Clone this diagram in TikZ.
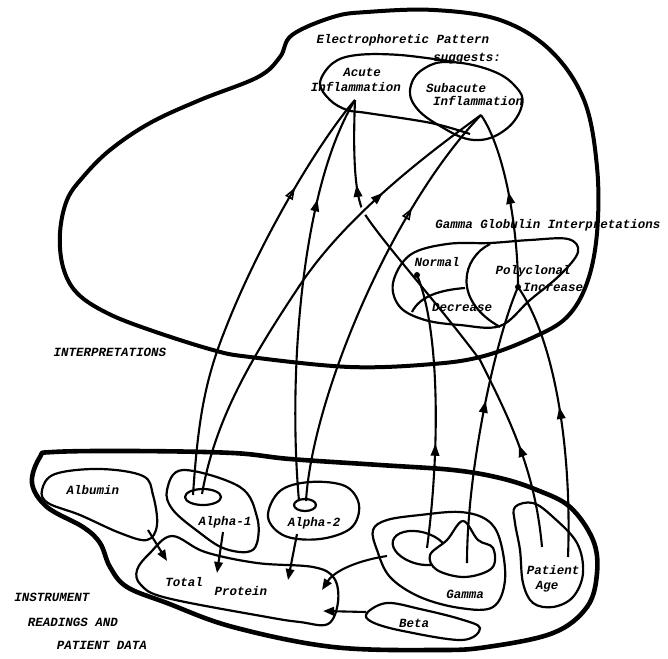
\documentclass[tikz,border=0pt]{standalone}
\usepackage{fontspec}
\setmonofont{Liberation Mono}
\usetikzlibrary{arrows.meta,decorations.markings}
\begin{document}
\begin{tikzpicture}[x=1pt,y=-1pt,
  lbl/.style={font=\ttfamily\bfseries\itshape\fontsize{12.5}{13}\selectfont, inner sep=0pt},
  outerblob/.style={line width=4pt, line join=round},
  blob/.style={line width=2.2pt, line join=round},
  conn/.style={line width=2.1pt},
  headF/.style={postaction={decorate}, decoration={markings, mark=at position #1 with {\arrow{Triangle[length=12pt,width=8.5pt]}}}},
  headO/.style={postaction={decorate}, decoration={markings, mark=at position #1 with {\arrow{Triangle[open,length=12pt,width=8.5pt,line width=1.6pt]}}}},
  headFF/.style 2 args={postaction={decorate}, decoration={markings,
      mark=at position #1 with {\arrow{Triangle[length=12pt,width=8.5pt]}},
      mark=at position #2 with {\arrow{Triangle[length=12pt,width=8.5pt]}}}},
  tipF/.style={-{Triangle[length=11pt,width=8.5pt]}},
  dotnode/.style={circle, fill, inner sep=0pt, minimum size=6pt}
]
\useasboundingbox (0,0) rectangle (668,658);

% ---------- upper region (interpretations) ----------
\draw[outerblob] plot[smooth cycle, tension=0.6] coordinates {
 (213,350) (150,330) (107,313) (77,293) (63,267) (60,233) (67,200) (83,177)
 (110,150) (150,123) (200,100) (258,77) (280,57) (292,35) (333,17) (367,12)
 (434,10) (500,20) (550,50) (584,100) (597,167) (597,233) (587,283) (567,317)
 (534,337) (484,356) (433,364) (350,367) (250,357)};

% pattern contour and subacute
\draw[blob] plot[smooth, tension=0.6] coordinates {
 (455,62) (400,55) (357,55) (333,63) (320,83) (330,100) (347,110) (367,113) (431,123) (470,134)};
\draw[blob] plot[smooth cycle, tension=0.7] coordinates {
 (411,85) (425,68) (450,62) (490,70) (515,86) (522,105) (505,130) (474,140) (440,126) (415,106)};

% gamma globulin interpretations
\draw[blob] plot[smooth cycle, tension=0.6] coordinates {
 (393,283) (410,255) (447,244) (490,243) (530,240) (568,239) (578,252) (560,275)
 (530,300) (500,326) (460,325) (425,320) (400,307)};
\draw[blob] (490,244) .. controls (462,258) and (452,300) .. (500,327);
\draw[blob] (412,312) .. controls (420,296) and (440,290) .. (465,288);

% ---------- lower region (instrument readings) ----------
\draw[outerblob, line width=4.6pt] plot[smooth cycle, tension=0.6] coordinates {
 (40,457) (53,452) (133,451) (233,453) (290,459) (380,465) (453,470) (500,478)
 (537,490) (570,507) (593,540) (597,573) (587,607) (553,633) (487,647) (437,650)
 (333,647) (233,627) (167,603) (127,587) (110,567) (100,543) (83,527) (47,507) (32,483)};

% albumin
\draw[blob] plot[smooth cycle, tension=0.6] coordinates {
 (42,490) (55,474) (100,469) (143,476) (153,495) (157,525) (147,540) (120,533) (80,515) (48,503)};
% alpha-1
\draw[blob] plot[smooth cycle, tension=0.6] coordinates {
 (167,490) (183,470) (240,487) (257,517) (257,543) (247,552) (223,548) (200,533) (173,510)};
\draw[blob] (203,497) ellipse [x radius=18, y radius=8];
% alpha-2
\draw[blob] plot[smooth cycle, tension=0.6] coordinates {
 (268,517) (280,491) (310,482) (345,486) (359,505) (351,528) (320,539) (285,536)};
\draw[blob] (305,505) ellipse [x radius=11, y radius=6];
% total protein
\draw[blob] plot[smooth cycle, tension=0.6] coordinates {
 (137,570) (150,553) (172,536) (205,552) (257,563) (313,567) (334,578) (338,602)
 (328,624) (300,622) (267,617) (167,598) (141,585)};
% gamma
\draw[blob] plot[smooth cycle, tension=0.6] coordinates {
 (373,530) (387,520) (420,515) (460,512) (487,520) (500,540) (505,580) (493,607)
 (460,608) (420,597) (390,577) (377,550)};
\draw[blob, rotate around={-15:(420,548)}] (420,548) ellipse [x radius=28, y radius=16];
\draw[blob, fill=white] plot[smooth cycle, tension=0.6] coordinates {
 (463,521) (478,540) (493,548) (492,568) (465,577) (437,570) (430,555) (447,540)};
% beta
\draw[blob] plot[smooth cycle, tension=0.6] coordinates {
 (367,613) (387,603) (420,609) (460,619) (480,628) (462,640) (403,631) (372,622)};
% patient age
\draw[blob] plot[smooth cycle, tension=0.6] coordinates {
 (515,507) (533,503) (553,517) (577,543) (583,573) (573,597) (553,607) (533,603)
 (523,583) (520,550) (515,523)};

% ---------- anchor points ----------
\coordinate (acute) at (355,100);
\coordinate (subacute) at (481,115);
\node[dotnode] (normal) at (417,275) {};
\node[dotnode] (poly) at (518,287) {};
\coordinate (a1a) at (193,495);
\coordinate (a1b) at (202,494);
\coordinate (a2a) at (299,501);
\coordinate (a2b) at (306,501);
\coordinate (gl) at (427,548);
\coordinate (gr) at (467,563);
\coordinate (agel) at (542,547);
\coordinate (ager) at (568,557);
\coordinate (albout) at (148,530);
\coordinate (tpa) at (167,561);
\coordinate (a1out) at (223,532);
\coordinate (tpb) at (217,573);
\coordinate (a2out) at (297,534);
\coordinate (tpc) at (288,580);
\coordinate (gout) at (387,556);
\coordinate (tpd) at (322,590);
\coordinate (bout) at (366,612);
\coordinate (tpe) at (323,611);

% ---------- connectors ----------
\draw[conn, headO=0.755] (a1a) .. controls (198,420) and (205,380) .. (225,330)
   .. controls (260,240) and (320,140) .. (acute);
\draw[conn, headF=0.74] (a2a) .. controls (288,380) and (300,190) .. (acute);
\draw[conn, headO=0.73] (a2b) .. controls (312,400) and (390,210) .. (subacute);
\draw[conn, headFF={0.21}{0.83}] (agel) .. controls (535,470) and (510,420) .. (480,360)
   .. controls (435,300) and (385,245) .. (364,213)
   .. controls (354,195) and (353,150) .. (acute);
% crossing gap
\draw[white, line width=8pt] (351,221) -- (376,201);
\draw[conn, headF=0.74] (a1b) .. controls (215,420) and (250,360) .. (300,285)
   .. controls (350,210) and (440,145) .. (subacute);
\draw[conn, headF=0.38] (gl) .. controls (440,450) and (440,330) .. (normal.center);
\draw[conn, headF=0.58] (gr) .. controls (467,470) and (495,340) .. (poly.center);
\draw[conn, headFF={0.33}{0.82}] (ager) .. controls (572,450) and (555,340) .. (poly.center)
   .. controls (518,230) and (505,150) .. (subacute);

\draw[conn, tipF] (albout) -- (tpa);
\draw[conn, tipF] (a1out) -- (tpb);
\draw[conn, tipF] (a2out) -- (tpc);
\draw[conn, tipF] (gout) .. controls (360,560) and (335,570) .. (tpd);
\draw[conn, tipF] (bout) -- (tpe);

% ---------- labels ----------
\node[lbl] (tep) at (403,40) {Electrophoretic Pattern};
\node[lbl] (tsug) at (467,59) {suggests:};
\node[lbl] (tac1) at (362,72) {Acute};
\node[lbl] (tac2) at (356,87) {Inflammation};
\node[lbl] (tsa1) at (456,88) {Subacute};
\node[lbl] (tsa2) at (478,101) {Inflammation};
\node[lbl] (tgg) at (548,225) {Gamma Globulin Interpretations};
\node[lbl] (tnor) at (437,262) {Normal};
\node[lbl] (tpol) at (533,271) {Polyclonal};
\node[lbl] (tinc) at (553,287) {Increase};
\node[lbl] (tdec) at (462,307) {Decrease};
\node[lbl] (tint) at (110,352) {INTERPRETATIONS};
\node[lbl] (talb) at (93,490) {Albumin};
\node[lbl] (ta1) at (225,522) {Alpha-1};
\node[lbl] (ta2) at (314,523) {Alpha-2};
\node[lbl] (ttot) at (184,582) {Total};
\node[lbl] (tpro) at (241,591) {Protein};
\node[lbl] (tgam) at (465,594) {Gamma};
\node[lbl] (tbet) at (414,623) {Beta};
\node[lbl] (tpat) at (553,570) {Patient};
\node[lbl] (tage) at (547,587) {Age};
\node[lbl] (tin1) at (52,597) {INSTRUMENT};
\node[lbl] (tin2) at (73,622) {READINGS AND};
\node[lbl] (tin3) at (102,645) {PATIENT DATA};
\end{tikzpicture}
\end{document}
